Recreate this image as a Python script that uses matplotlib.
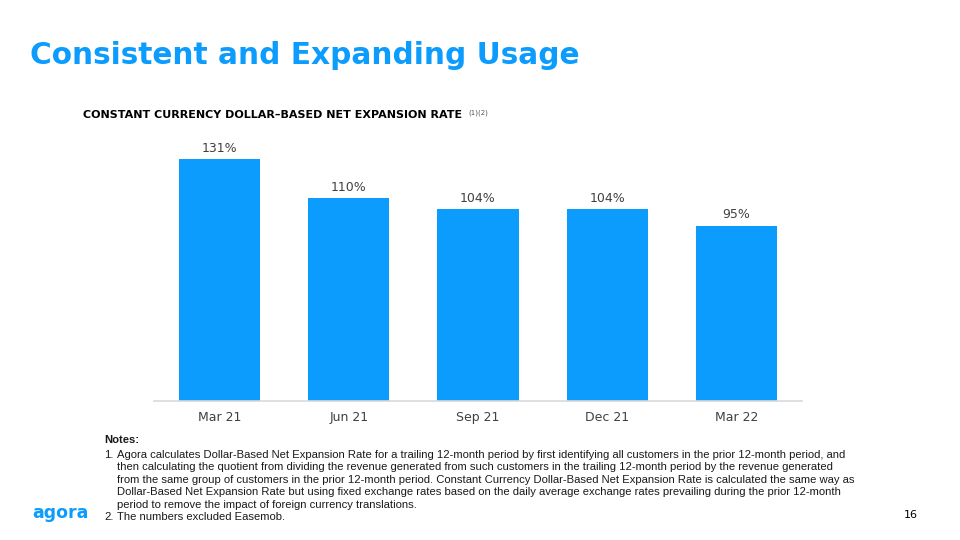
import numpy as np
import matplotlib
matplotlib.use("Agg")
import matplotlib.pyplot as plt

# data
quarters = ["Mar 21", "Jun 21", "Sep 21", "Dec 21", "Mar 22"]
rates = [131, 110, 104, 104, 95]

note_lines_1 = [
    "Agora calculates Dollar-Based Net Expansion Rate for a trailing 12-month period by first identifying all customers in the prior 12-month period, and",
    "then calculating the quotient from dividing the revenue generated from such customers in the trailing 12-month period by the revenue generated",
    "from the same group of customers in the prior 12-month period. Constant Currency Dollar-Based Net Expansion Rate is calculated the same way as",
    "Dollar-Based Net Expansion Rate but using fixed exchange rates based on the daily average exchange rates prevailing during the prior 12-month",
    "period to remove the impact of foreign currency translations.",
]
note_2 = "The numbers excluded Easemob."

blue = "#0B9CFE"
grey_txt = "#404040"

fig = plt.figure(figsize=(9.6, 5.4), dpi=100)
W, H = 960, 540


def fx(px):
    return px / W


def fy(py):
    return 1 - py / H


# slide title
fig.text(fx(30), fy(55), "Consistent and Expanding Usage", color=blue,
         fontsize=21.3, fontweight="bold", family="DejaVu Sans", va="center")

# chart heading with superscript refs
fig.text(fx(83), fy(115), "CONSTANT CURRENCY DOLLAR\u2013BASED NET EXPANSION RATE",
         fontsize=8, fontweight="bold", family="DejaVu Sans", va="center", color="black")
fig.text(fx(468), fy(113), "(1)(2)", fontsize=5, family="DejaVu Sans",
         va="center", color="#555555")

# bar chart
ax = fig.add_axes([fx(154), fy(401), fx(802) - fx(154), (401 - 140) / H])
x = np.arange(len(quarters))
bars = ax.bar(x, rates, width=0.627, color=blue, edgecolor="none", zorder=2)
ax.set_xlim(-0.507, len(quarters) - 1 + 0.507)
ax.set_ylim(0, 141.3)
for b, v in zip(bars, rates):
    ax.annotate(f"{v}%", (b.get_x() + b.get_width() / 2, v), xytext=(0, 3),
                textcoords="offset points", ha="center", va="bottom",
                fontsize=9, color=grey_txt, family="DejaVu Sans")
ax.set_xticks(x)
ax.set_xticklabels(quarters, fontsize=9, color=grey_txt, family="DejaVu Sans")
ax.tick_params(axis="x", length=0, pad=7)
ax.set_yticks([])
for s in ["top", "right", "left"]:
    ax.spines[s].set_visible(False)
ax.spines["bottom"].set_color("#D9D9D9")
ax.spines["bottom"].set_linewidth(1.2)

# notes
note_font = dict(fontsize=8.1, family="Liberation Sans", color="#1a1a1a", va="center")
fig.text(fx(104), fy(440), "Notes:", fontweight="bold", **note_font)
line_y = 455
fig.text(fx(104), fy(line_y), "1.", **note_font)
for ln in note_lines_1:
    fig.text(fx(117), fy(line_y), ln, **note_font)
    line_y += 12.4
fig.text(fx(104), fy(517), "2.", **note_font)
fig.text(fx(117), fy(517), note_2, **note_font)

# page number and logo
fig.text(fx(918), fy(515), "16", fontsize=8, family="DejaVu Sans", ha="right",
         va="center", color="black")
fig.text(fx(32), fy(513), "agora", fontsize=12.5, fontweight="bold",
         family="DejaVu Sans", color=blue, va="center")

fig.savefig("out.png", dpi=100)
